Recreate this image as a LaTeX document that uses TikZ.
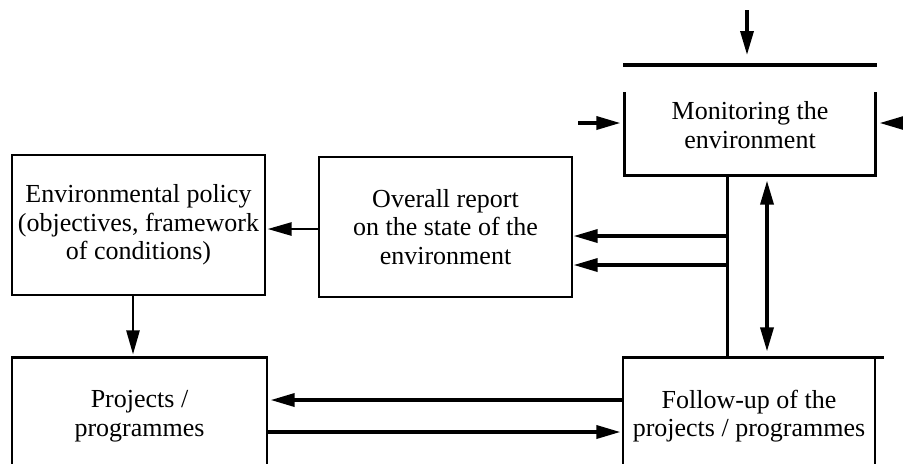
\documentclass[tikz,border=0pt]{standalone}
\usepackage{fontspec}
\setmainfont{Liberation Serif}
\usetikzlibrary{arrows.meta,positioning}
\tikzset{
	box/.style={draw, line width=0.6pt, inner sep=0pt, align=center, minimum width=126.5pt, minimum height=70pt, font=\fontsize{13}{14.3}\selectfont},
	openbox/.style={box, draw=none},
	head/.tip={Triangle[length=12pt,width=6.5pt]},
	arr/.style={line width=1.7pt, -head},
	conn/.style={line width=1.5pt}
}
\begin{document}
\begin{tikzpicture}[x=0.5pt, y=-0.5pt]
			\useasboundingbox (0,0) rectangle (903,463);
			\clip (0,0) rectangle (903,463);
			
			% Define nodes
			\node[openbox, minimum width=125pt, minimum height=41pt]	(mon) at (750,134) {};
			\node[openbox, minimum width=0pt, minimum height=0pt]	(montext) at (750,125) {Monitoring the\\environment};
			\node[box]                          		(policy) at (138.5,225) {Environmental policy\\(objectives, framework\\of conditions)};
			\node[box]                          		(report) at (445.5,227) {Overall report\\on the state of the\\environment};
			\node[box, minimum width=127.5pt, minimum height=58pt]	(projects) at (139.5,416) {Projects /\\programmes};
			\node[box, minimum width=126pt, minimum height=58pt]	(follow) at (749,416) {Follow-up of the\\projects / programmes};
			
			\coordinate (topin) at (747,10);
			\coordinate (topend) at (747,55);
			\coordinate (barw) at (623,65);
			\coordinate (bare) at (877,65);
			\coordinate (leftin) at (578,123);
			\coordinate (rightin) at (903,123);
			\coordinate (fb) at (727,0);
			\coordinate (r1) at ([yshift=-4.5pt]report.east);
			\coordinate (r2) at ([yshift=-19pt]report.east);
			
			% Monitoring box, open at the top
			\draw[line width=1.6pt] (mon.north west) |- (mon.south east) -- (mon.north east);
			\draw[line width=1.8pt] (barw) -- (bare);
			\draw[line width=1.2pt] (projects.north west) -- (projects.north east);
			\draw[line width=1.2pt] (follow.north west) -- ([xshift=4pt]follow.north east);
			
			% Connect the nodes
			\draw[arr] (topin) -- (topend);
			\draw[arr] (leftin) -- ([xshift=-2pt]leftin -| mon.west);
			\draw[arr] (rightin) -- ([xshift=2pt]rightin -| mon.east);
			\draw[conn] (fb |- mon.south) -- (fb |- follow.north);
			\draw[arr] (fb |- r1) -- ([xshift=0.5pt]r1);
			\draw[arr] (fb |- r2) -- ([xshift=0.5pt]r2);
			\draw[line width=1.7pt, head-head, shorten <=2.5pt, shorten >=3pt] ([xshift=8.5pt]mon.south) -- ([xshift=8.5pt]mon.south |- follow.north);
			\draw[arr, line width=1.3pt] ([yshift=-1pt]report.west) -- ([yshift=-1pt,xshift=1pt]report.west -| policy.east);
			\draw[arr, line width=1.3pt] ([xshift=-2.75pt]policy.south) -- ([xshift=-2.75pt,yshift=1.5pt]policy.south |- projects.north);
			\draw[arr] ([yshift=8pt]follow.west) -- ([yshift=8pt,xshift=1.5pt]projects.east);
			\draw[arr] ([yshift=-8pt]projects.east) -- ([yshift=-8pt,xshift=-1pt]follow.west);
			
\end{tikzpicture}
\end{document}
